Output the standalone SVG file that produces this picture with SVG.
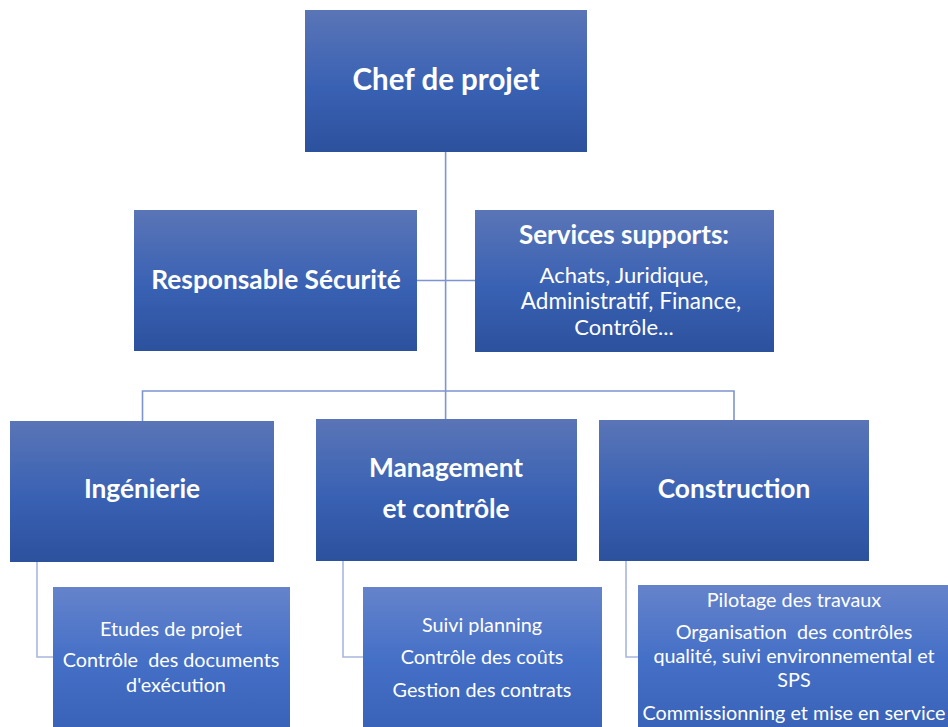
<svg xmlns="http://www.w3.org/2000/svg" width="948" height="727" viewBox="0 0 948 727">
<defs>
<linearGradient id="gMain" x1="0" y1="0" x2="0" y2="1">
<stop offset="0" stop-color="#5a75b7"/>
<stop offset="0.55" stop-color="#3961b3"/>
<stop offset="1" stop-color="#2c519d"/>
</linearGradient>
<linearGradient id="gSub" x1="0" y1="0" x2="0" y2="1">
<stop offset="0" stop-color="#6583cb"/>
<stop offset="0.5" stop-color="#4570c7"/>
<stop offset="1" stop-color="#3862b7"/>
</linearGradient>
<style>
.main{fill:url(#gMain)}
.sub{fill:url(#gSub)}
.b{font-family:Lato,"Open Sans","Liberation Sans",sans-serif;font-weight:bold;fill:#fff;text-anchor:middle}
.r{font-family:Lato,"Open Sans","Liberation Sans",sans-serif;fill:#fff;text-anchor:middle}
.ln{fill:none;stroke:#7d94d3;stroke-width:1.6}
.ls{fill:none;stroke:#a8b6e0;stroke-width:1.6}
</style>
</defs>
<g id="connectors">
<path class="ln" d="M445.6 152 V391"/>
<path class="ln" d="M417 280.5 H475"/>
<path class="ln" d="M142.5 421 V391 H734 V421"/>
<path class="ln" d="M445.6 391 V420"/>
<path class="ls" d="M37 562 V657 H53"/>
<path class="ls" d="M343 561 V657 H363"/>
<path class="ls" d="M626 561 V657 H638"/>
</g>
<g id="chef">
<rect class="main" x="305" y="10" width="282" height="142"/>
<text class="b" x="446" y="90" font-size="29.5">Chef de projet</text>
</g>
<g id="securite">
<rect class="main" x="134" y="210" width="283" height="141"/>
<text class="b" x="276" y="289" font-size="26.3">Responsable Sécurité</text>
</g>
<g id="services">
<rect class="main" x="475" y="210" width="299" height="142"/>
<text class="b" x="624" y="244" font-size="26">Services supports:</text>
<text class="r" x="624" y="283" font-size="22">Achats, Juridique,</text>
<text class="r" x="631" y="309" font-size="22.5">Administratif, Finance,</text>
<text class="r" x="624" y="335" font-size="22">Contrôle...</text>
</g>
<g id="ingenierie">
<rect class="main" x="10" y="421" width="264" height="141"/>
<text class="b" x="142" y="498" font-size="26.3">Ingénierie</text>
</g>
<g id="management">
<rect class="main" x="316" y="419" width="261" height="142"/>
<text class="b" x="446" y="477" font-size="26.3">Management</text>
<text class="b" x="446" y="518" font-size="26.3">et contrôle</text>
</g>
<g id="construction">
<rect class="main" x="599" y="420" width="270" height="141"/>
<text class="b" x="734" y="498" font-size="26.3">Construction</text>
</g>
<g id="ingenierie-detail">
<rect class="sub" x="53" y="587" width="237" height="145"/>
<text class="r" x="171" y="636" font-size="19.8">Etudes de projet</text>
<text class="r" x="171" y="667" font-size="19.8" xml:space="preserve">Contrôle  des documents</text>
<text class="r" x="176" y="692" font-size="19.8">d'exécution</text>
</g>
<g id="management-detail">
<rect class="sub" x="363" y="587" width="239" height="145"/>
<text class="r" x="482" y="632" font-size="19.8">Suivi planning</text>
<text class="r" x="482" y="664" font-size="19.8">Contrôle des coûts</text>
<text class="r" x="482" y="697" font-size="19.8">Gestion des contrats</text>
</g>
<g id="construction-detail">
<rect class="sub" x="638" y="585" width="315" height="147"/>
<text class="r" x="794" y="607" font-size="19.8">Pilotage des travaux</text>
<text class="r" x="794" y="639" font-size="19.8" xml:space="preserve">Organisation  des contrôles</text>
<text class="r" x="794" y="663" font-size="19.8">qualité, suivi environnemental et</text>
<text class="r" x="794" y="687" font-size="19.8">SPS</text>
<text class="r" x="794" y="720" font-size="19.8">Commissionning et mise en service</text>
</g>
</svg>
